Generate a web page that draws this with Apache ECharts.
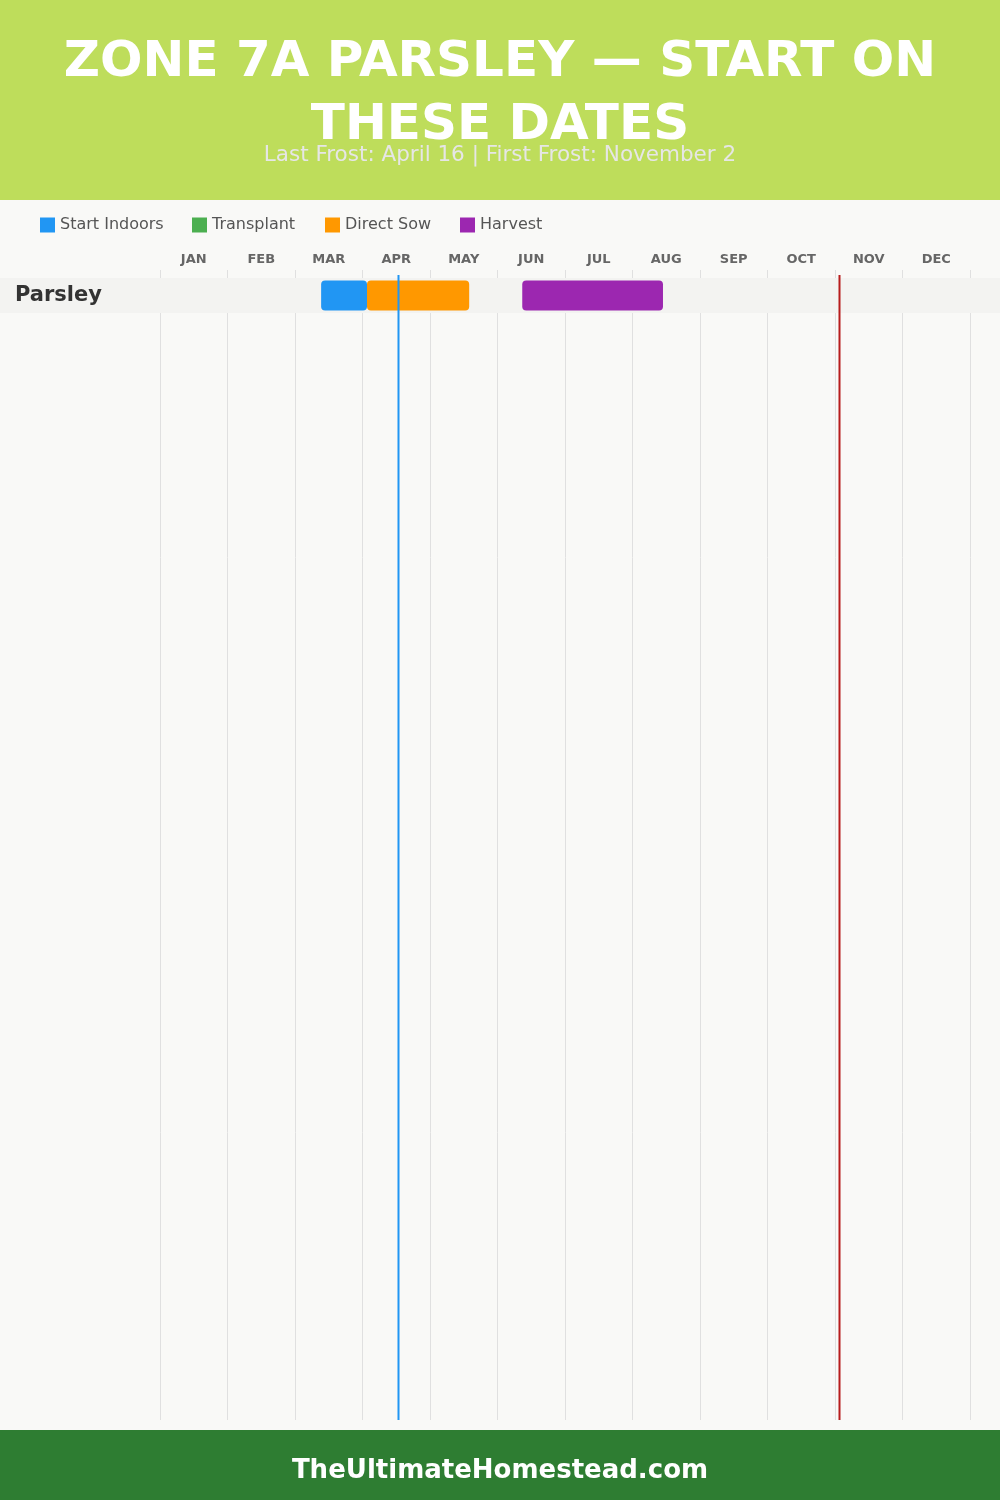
<!DOCTYPE html>
<html>
<head>
<meta charset="utf-8">
<script src="https://cdn.jsdelivr.net/npm/echarts@6/dist/echarts.min.js"></script>
<style>
html,body{margin:0;padding:0;background:#f9f9f7;}
#chart{width:1000px;height:1500px;}
</style>
</head>
<body>
<div id="chart"></div>
<script>
// ---- Data ----
const months = ['JAN','FEB','MAR','APR','MAY','JUN','JUL','AUG','SEP','OCT','NOV','DEC'];
const crops = ['Parsley'];
const legendNames = ['Start Indoors', 'Transplant', 'Direct Sow', 'Harvest'];
const startIndoors = [['03-12', '04-02']];
const transplant = [];
const directSow = [['04-02', '05-18']];
const harvest = [['06-11', '08-14']];
const lastFrost = '04-16';
const firstFrost = '11-02';
const titleText = 'ZONE 7A PARSLEY — START ON\nTHESE DATES';
const subtitleText = 'Last Frost: April 16 | First Frost: November 2';
const footerText = 'TheUltimateHomestead.com';

// month-fraction position: month index + day / days in month
function toPos(s) {
  const [m, d] = s.split('-').map(Number);
  const dim = new Date(2023, m, 0).getDate();
  return (m - 1) + d / dim;
}
function ranges(list) {
  return list.map((r, i) => [toPos(r[0]), toPos(r[1]), i]);
}

const FONT = '"DejaVu Sans", sans-serif';

function barRender(color) {
  return function (params, api) {
    const s = api.coord([api.value(0), api.value(2)]);
    const e = api.coord([api.value(1), api.value(2)]);
    const h = api.size([0, 1])[1] * 30 / 35;
    return {
      type: 'rect',
      shape: { x: s[0], y: s[1] - h / 2, width: e[0] - s[0], height: h, r: 4 },
      style: { fill: color }
    };
  };
}

function frostRender(color) {
  return function (params, api) {
    const top = api.coord([api.value(0), 1]);
    const bot = api.coord([api.value(0), 0]);
    return {
      type: 'line',
      shape: { x1: top[0], y1: top[1] + 5, x2: bot[0], y2: bot[1] },
      style: { stroke: color, lineWidth: 2 }
    };
  };
}

const legendLefts = [40, 192, 325, 460];
const legends = legendNames.map((n, i) => ({
  data: [n],
  left: legendLefts[i], top: 217, padding: 0,
  icon: 'rect', itemWidth: 15, itemHeight: 15,
  textStyle: { color: '#555555', fontSize: 16, fontFamily: FONT },
  selectedMode: false
}));

const chart = echarts.init(document.getElementById('chart'), null, { renderer: 'canvas' });
chart.setOption({
  backgroundColor: '#f9f9f7',
  animation: false,
  textStyle: { fontFamily: FONT },
  graphic: [
    { type: 'rect', left: 0, top: 0, shape: { width: 1000, height: 200 }, style: { fill: '#bedd5b' }, z: 0 },
    { type: 'text', x: 500, y: 95, style: { text: titleText, fill: '#ffffff', font: '900 50px ' + FONT, textAlign: 'center', textVerticalAlign: 'middle', lineHeight: 63 }, z: 2 },
    { type: 'text', x: 500, y: 155, style: { text: subtitleText, fill: '#e6e6e6', font: '400 21.5px ' + FONT, textAlign: 'center', textVerticalAlign: 'middle' }, z: 1 },
    { type: 'rect', left: 0, top: 1430, shape: { width: 1000, height: 70 }, style: { fill: '#2e7d32' }, z: 0 },
    { type: 'text', x: 500, y: 1471, style: { text: footerText, fill: '#ffffff', font: 'bold 26px ' + FONT, textAlign: 'center', textVerticalAlign: 'middle' }, z: 1 }
  ],
  legend: legends,
  grid: [
    { left: 160, right: 30, top: 270, bottom: 80 },
    { left: 160, right: 30, top: 278, height: 35 }
  ],
  xAxis: [
    { type: 'category', gridIndex: 0, data: months, position: 'top', boundaryGap: true,
      axisLine: { show: false }, axisTick: { show: false },
      axisLabel: { interval: 0, margin: 4, color: '#666666', fontWeight: 'bold', fontSize: 13, fontFamily: FONT },
      splitLine: { show: true, interval: 0, lineStyle: { color: '#e0e0e0', width: 1 } } },
    { type: 'value', gridIndex: 0, min: 0, max: 12, show: false },
    { type: 'value', gridIndex: 1, min: 0, max: 12, show: false }
  ],
  yAxis: [
    { type: 'value', gridIndex: 0, min: 0, max: 1, show: false },
    { type: 'category', gridIndex: 1, data: crops, inverse: true, z: 10,
      axisLine: { show: false }, axisTick: { show: false }, splitLine: { show: false },
      axisLabel: { align: 'left', margin: 145, color: '#333333', fontWeight: 'bold', fontSize: 21, fontFamily: FONT, padding: [3, 0, 0, 0] } }
  ],
  series: [
    { type: 'custom', name: 'rowBand', xAxisIndex: 2, yAxisIndex: 1, silent: true, z: 1,
      data: crops.map((c, i) => [0, 12, i]),
      renderItem: function (params, api) {
        const c = api.coord([0, api.value(2)]);
        const h = api.size([0, 1])[1];
        return { type: 'rect', shape: { x: 0, y: c[1] - h / 2, width: api.getWidth(), height: h }, style: { fill: '#f3f3f1' } };
      } },
    { type: 'custom', name: 'Start Indoors', xAxisIndex: 2, yAxisIndex: 1, z: 3, itemStyle: { color: '#2196f3' },
      data: ranges(startIndoors), renderItem: barRender('#2196f3') },
    { type: 'custom', name: 'Transplant', xAxisIndex: 2, yAxisIndex: 1, z: 3, itemStyle: { color: '#4caf50' },
      data: ranges(transplant), renderItem: barRender('#4caf50') },
    { type: 'custom', name: 'Direct Sow', xAxisIndex: 2, yAxisIndex: 1, z: 3, itemStyle: { color: '#ff9800' },
      data: ranges(directSow), renderItem: barRender('#ff9800') },
    { type: 'custom', name: 'Harvest', xAxisIndex: 2, yAxisIndex: 1, z: 3, itemStyle: { color: '#9c27b0' },
      data: ranges(harvest), renderItem: barRender('#9c27b0') },
    { type: 'custom', name: 'Last Frost', xAxisIndex: 1, yAxisIndex: 0, z: 5, silent: true,
      data: [[toPos(lastFrost)]], renderItem: frostRender('#2196f3') },
    { type: 'custom', name: 'First Frost', xAxisIndex: 1, yAxisIndex: 0, z: 5, silent: true,
      data: [[toPos(firstFrost)]], renderItem: frostRender('#b71c1c') }
  ]
});
</script>
</body>
</html>
